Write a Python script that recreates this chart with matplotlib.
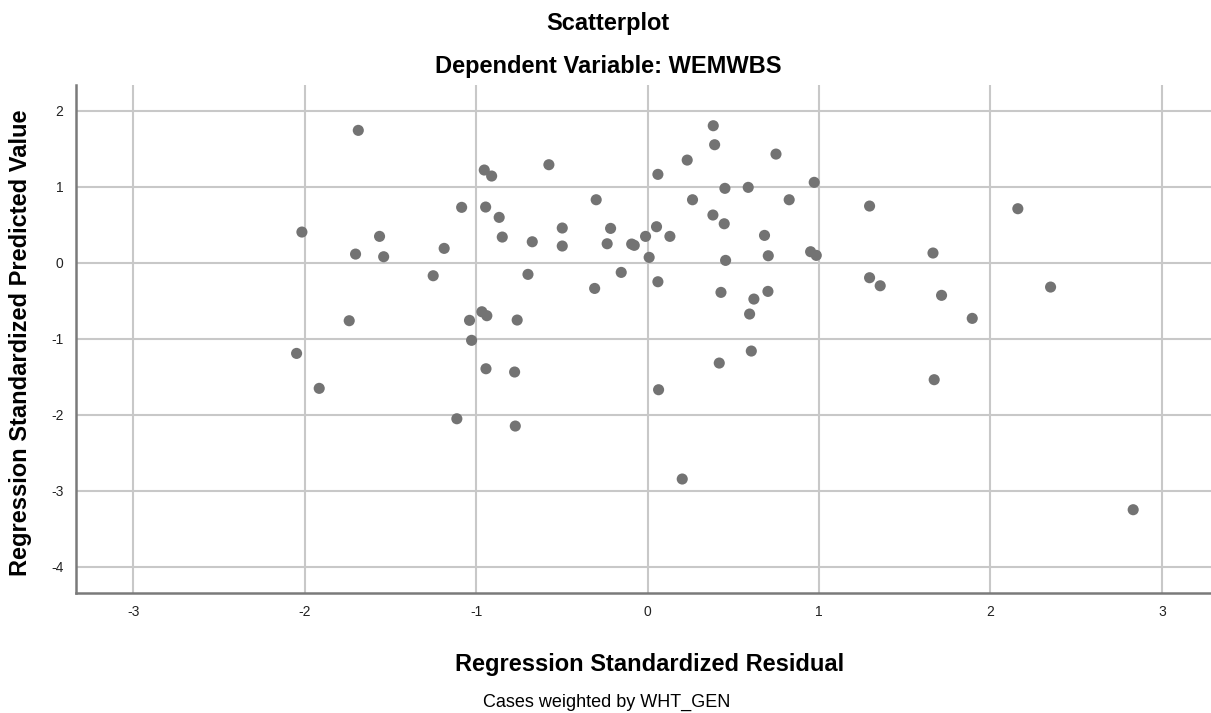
import matplotlib
matplotlib.use("Agg")
import matplotlib.pyplot as plt

plt.rcParams['font.family'] = ['Liberation Sans', 'DejaVu Sans']

# Regression standardized residual (x) and predicted value (y)
residual = [-1.688, -2.017, -1.704, -1.564, -1.540, -1.187, -1.251, -1.741,
            -1.085, -0.953, -0.910, -0.945, -0.866, -0.848, -0.673, -0.698,
            -0.576, -0.498, -0.498, -1.039, -0.967, -0.938, -0.761, -1.027,
            -0.300, -0.216, -0.236, -0.093, -0.078, -0.154, -0.309, -0.012,
            0.009, 0.052, 0.060, 0.130, 0.060, 0.231, 0.262, 0.383,
            0.391, 0.381, 0.447, 0.451, 0.455, 0.428, 0.587, 0.749,
            0.826, 0.682, 0.704, 0.620, 0.702, 0.595, 0.972, 0.951,
            0.984, -0.943, -0.776, -1.113, -0.772, 0.064, 0.418, 0.605,
            0.202, -2.048, -1.916, 1.295, 1.665, 1.295, 1.357, 1.715,
            1.894, 2.160, 2.351, 1.672, 2.833]
predicted = [1.742, 0.404, 0.114, 0.347, 0.079, 0.189, -0.171, -0.763,
             0.729, 1.220, 1.141, 0.733, 0.597, 0.338, 0.276, -0.153,
             1.290, 0.457, 0.220, -0.758, -0.645, -0.697, -0.754, -1.021,
             0.829, 0.452, 0.250, 0.246, 0.229, -0.127, -0.338, 0.347,
             0.071, 0.474, 1.163, 0.347, -0.250, 1.351, 0.829, 1.803,
             1.553, 0.628, 0.513, 0.979, 0.031, -0.390, 0.992, 1.430,
             0.829, 0.360, 0.092, -0.478, -0.377, -0.675, 1.058, 0.145,
             0.097, -1.395, -1.438, -2.053, -2.149, -1.671, -1.320, -1.162,
             -2.846, -1.193, -1.653, 0.746, 0.128, -0.197, -0.303, -0.429,
             -0.732, 0.711, -0.320, -1.539, -3.250]

x_ticks = [-3, -2, -1, 0, 1, 2, 3]
y_ticks = [2, 1, 0, -1, -2, -3, -4]

W, H = 1211, 713
fig = plt.figure(figsize=(W / 100, H / 100), dpi=100)
ax = fig.add_axes([76 / W, (H - 592.7) / H, 1135 / W, (592.7 - 85) / H])

ax.set_xlim(-3.335, 3.287)
ax.set_ylim(-4.342, 2.339)
ax.set_xticks(x_ticks)
ax.set_yticks(y_ticks)
ax.set_xticklabels([str(t) for t in x_ticks])
ax.set_yticklabels([str(t) for t in y_ticks])
ax.grid(True, color='#c8c8c8', linewidth=1.5)
ax.set_axisbelow(True)
ax.tick_params(length=0, labelsize=10, colors='#222222', pad=9)

for s in ['top', 'right']:
    ax.spines[s].set_visible(False)
for s in ['left', 'bottom']:
    ax.spines[s].set_color('#7a7a7a')
    ax.spines[s].set_linewidth(1.8)

ax.scatter(residual, predicted, s=64, color='#737373', edgecolors='none', zorder=3, clip_on=False)

fig.text(608 / W, 1 - 23.5 / H, 'Scatterplot', ha='center', va='center', fontsize=17, fontweight='bold')
fig.text(608 / W, 1 - 66 / H, 'Dependent Variable: WEMWBS', ha='center', va='center', fontsize=17, fontweight='bold')
fig.text(650 / W, 1 - 664.5 / H, 'Regression Standardized Residual', ha='center', va='center', fontsize=17, fontweight='bold')
fig.text(607 / W, 1 - 702 / H, 'Cases weighted by WHT_GEN', ha='center', va='center', fontsize=13)
fig.text(21 / W, 1 - 343 / H, 'Regression Standardized Predicted Value', ha='center', va='center',
         rotation=90, fontsize=17, fontweight='bold')

fig.savefig('out.png', dpi=100)
